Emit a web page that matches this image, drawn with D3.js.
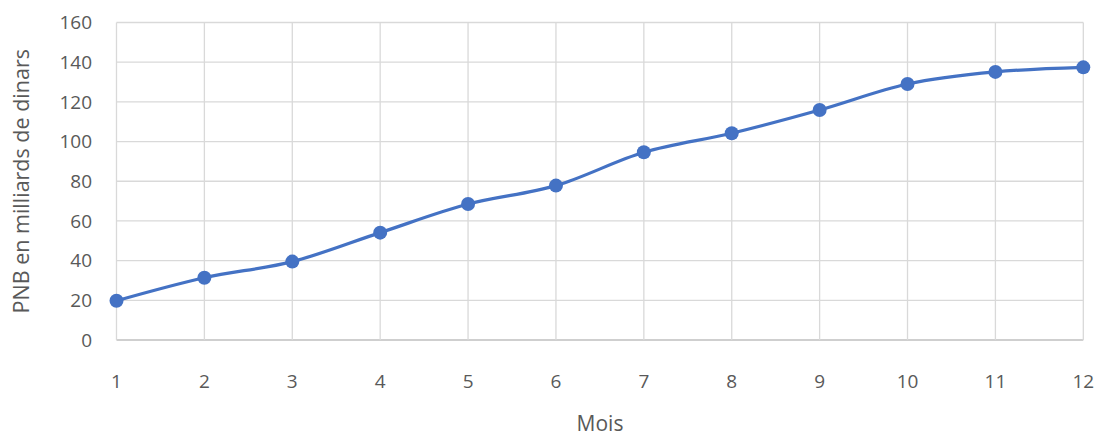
<!DOCTYPE html>
<html><head><meta charset="utf-8">
<script src="https://cdn.jsdelivr.net/npm/d3@7"></script>
<style>body{margin:0;background:#fff}svg{display:block}</style>
</head><body><svg id="c" width="1098" height="438"></svg>
<script>
const months = [1,2,3,4,5,6,7,8,9,10,11,12];
const pnb = [19.8,31.4,39.5,54.1,68.5,77.8,94.6,104.2,115.9,129.0,135.1,137.4];
const yTicks = [0,20,40,60,80,100,120,140,160];
const xTitle = "Mois";
const yTitle = "PNB en milliards de dinars";

const svg = d3.select("#c");
const font = "'Open Sans', Lato, sans-serif";
const x = d3.scaleLinear().domain([1,12]).range([116.5,1083.3]);
const y = d3.scaleLinear().domain([0,160]).range([340,22.5]);

// grid
svg.append("g").selectAll("line.h").data(yTicks).join("line")
  .attr("x1",x(1)).attr("x2",x(12)).attr("y1",d=>y(d)).attr("y2",d=>y(d))
  .attr("stroke",d=>d===0?"#bfbfbf":"#d9d9d9").attr("stroke-width",d=>d===0?1.5:1.3);
svg.append("g").selectAll("line.v").data(months).join("line")
  .attr("x1",d=>x(d)).attr("x2",d=>x(d)).attr("y1",y(160)).attr("y2",y(0))
  .attr("stroke","#d9d9d9").attr("stroke-width",1.3);

// y labels
svg.append("g").selectAll("text").data(yTicks).join("text")
  .attr("x",92).attr("y",d=>y(d)).attr("dy","0.35em").attr("text-anchor","end")
  .attr("font-family",font).attr("font-size",19).attr("fill","#595959").text(d=>d);
// x labels
svg.append("g").selectAll("text").data(months).join("text")
  .attr("x",d=>x(d)).attr("y",388).attr("text-anchor","middle")
  .attr("font-family",font).attr("font-size",19).attr("fill","#595959").text(d=>d);

svg.append("text").attr("x",600).attr("y",431).attr("text-anchor","middle")
  .attr("font-family",font).attr("font-size",21).attr("fill","#595959").text(xTitle);
svg.append("text").attr("transform",`translate(29,${y(80)}) rotate(-90)`).attr("text-anchor","middle")
  .attr("font-family",font).attr("font-size",21.5).attr("fill","#595959").text(yTitle);

const data = months.map((m,i)=>({m, v:pnb[i]}));
svg.append("path").datum(data)
  .attr("d", d3.line().x(d=>x(d.m)).y(d=>y(d.v)).curve(d3.curveCardinal.tension(0)))
  .attr("fill","none").attr("stroke","#4472C4").attr("stroke-width",3.2).attr("stroke-linejoin","round");
svg.append("g").selectAll("circle").data(data).join("circle")
  .attr("cx",d=>x(d.m)).attr("cy",d=>y(d.v)).attr("r",7).attr("fill","#4472C4");
</script></body></html>
